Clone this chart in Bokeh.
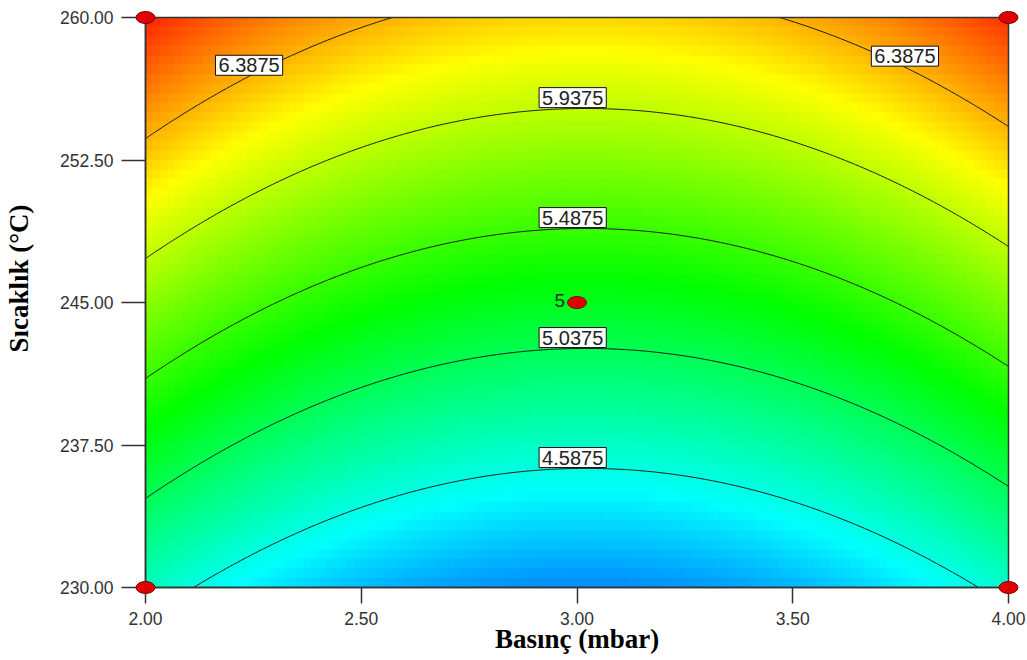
import numpy as np
from bokeh.plotting import figure
from bokeh.models import Range1d, FixedTicker, NumeralTickFormatter, Label
from bokeh.embed import file_html
from bokeh.resources import INLINE

# ---- data ----
pressure_range = [2.0, 4.0]          # Basınç (mbar)
temperature_range = [230.0, 260.0]   # Sıcaklık (°C)
x_ticks = [2.0, 2.5, 3.0, 3.5, 4.0]
y_ticks = [230.0, 237.5, 245.0, 252.5, 260.0]

# fitted quadratic response-surface model in coded units
coef_b0 = 5.21
coef_b1 = -0.0225   # pressure
coef_b2 = 1.069     # temperature
coef_b11 = 0.54
coef_b22 = 0.0
coef_b12 = 0.0

contour_levels = [4.5875, 5.0375, 5.4875, 5.9375, 6.3875]
label_levels = [6.3875, 5.9375, 5.4875, 5.0375, 4.5875, 6.3875]
label_pressure = [2.24, 2.99, 2.99, 2.99, 2.99, 3.76]
label_texts = ["6.3875", "5.9375", "5.4875", "5.0375", "4.5875", "6.3875"]

design_p = [2.0, 4.0, 2.0, 4.0, 3.0]
design_t = [230.0, 230.0, 260.0, 260.0, 245.0]
center_replicates = "5"

# colour scale stops (value -> colour)
cmap_values = [3.7, 4.5, 5.3, 6.15, 6.95]
cmap_colors = [(0, 0, 255), (0, 255, 255), (0, 255, 0), (255, 255, 0), (255, 0, 0)]

p_mid = (pressure_range[0] + pressure_range[1]) / 2
p_half = (pressure_range[1] - pressure_range[0]) / 2
t_mid = (temperature_range[0] + temperature_range[1]) / 2
t_half = (temperature_range[1] - temperature_range[0]) / 2


def model(P, T):
    x1 = (np.asarray(P) - p_mid) / p_half
    x2 = (np.asarray(T) - t_mid) / t_half
    return (coef_b0 + coef_b1 * x1 + coef_b2 * x2 + coef_b11 * x1 ** 2
            + coef_b22 * x2 ** 2 + coef_b12 * x1 * x2)


def t_on_level(P, level):
    x1 = (P - p_mid) / p_half
    a = coef_b22
    b = coef_b2 + coef_b12 * x1
    c = coef_b0 + coef_b1 * x1 + coef_b11 * x1 ** 2 - level
    if abs(a) < 1e-12:
        x2 = -c / b
    else:
        roots = np.roots([a, b, c])
        roots = [r.real for r in roots if abs(r.imag) < 1e-9]
        x2 = min(roots, key=lambda r: abs(r))
    return t_mid + x2 * t_half


# ---- layout: the frame covers the whole canvas; axes are pinned to the data box ----
W, H = 1027, 660
box_left, box_right, box_top, box_bottom = 145, 1008, 17, 587   # pixel box of the data area
sx = (box_right - box_left) / (pressure_range[1] - pressure_range[0])
sy = (box_bottom - box_top) / (temperature_range[1] - temperature_range[0])
xr = Range1d(pressure_range[0] - box_left / sx, pressure_range[1] + (W - box_right) / sx)
yr = Range1d(temperature_range[0] - (H - box_bottom) / sy, temperature_range[1] + box_top / sy)

p = figure(width=W, height=H, output_backend="svg", toolbar_location=None,
           x_range=xr, y_range=yr, min_border=0)
p.background_fill_color = "white"
p.border_fill_color = "white"
p.outline_line_color = None
p.grid.visible = False

# coloured surface (cell grid)
nx, ny = 120, 60
px = np.linspace(pressure_range[0], pressure_range[1], nx + 1)
py = np.linspace(temperature_range[0], temperature_range[1], ny + 1)
cx = (px[:-1] + px[1:]) / 2
cy = (py[:-1] + py[1:]) / 2
CX, CY = np.meshgrid(cx, cy)
Z = model(CX, CY)
rgba = np.zeros((ny, nx), dtype=np.uint32)
view = rgba.view(dtype=np.uint8).reshape((ny, nx, 4))
for ch in range(3):
    view[:, :, ch] = np.clip(np.interp(Z, cmap_values, [c[ch] for c in cmap_colors]), 0, 255).astype(np.uint8)
view[:, :, 3] = 255
p.image_rgba(image=[rgba], x=pressure_range[0], y=temperature_range[0],
             dw=pressure_range[1] - pressure_range[0], dh=temperature_range[1] - temperature_range[0])

# contour lines
gx = np.linspace(pressure_range[0], pressure_range[1], 300)
gy = np.linspace(temperature_range[0], temperature_range[1], 300)
GX, GY = np.meshgrid(gx, gy)
GZ = model(GX, GY)
p.contour(gx, gy, GZ, contour_levels, line_color="#1a1a1a", line_width=1)

# frame of the data box
p.quad(left=[pressure_range[0]], right=[pressure_range[1]], bottom=[temperature_range[0]],
       top=[temperature_range[1]], fill_color=None, line_color="#333333", line_width=1.5)

# contour labels
for lv, lp, txt in zip(label_levels, label_pressure, label_texts):
    lt = t_on_level(lp, lv)
    p.add_layout(Label(x=lp, y=lt, text=txt, text_align="center", text_baseline="bottom",
                       y_offset=1, text_font="Liberation Sans", text_font_size="20px",
                       text_color="#222222", background_fill_color="white",
                       border_line_color="#111111", border_line_width=1, padding=3))

# design points
p.ellipse(x=design_p, y=design_t, width=19, height=12, width_units="screen",
          height_units="screen", fill_color="#e00000", line_color="#7a0000", line_width=1,
          level="overlay")
p.add_layout(Label(x=design_p[4], y=design_t[4], text=center_replicates, x_offset=-12, y_offset=2,
                   text_align="right", text_baseline="middle", text_font="Liberation Sans",
                   text_font_size="19px", text_color="#1c331c"))

# axes pinned to the data box
p.xaxis.fixed_location = temperature_range[0]
p.xaxis.bounds = tuple(pressure_range)
p.yaxis.fixed_location = pressure_range[0]
p.yaxis.bounds = tuple(temperature_range)
for ax, ticks, tout in ((p.xaxis[0], x_ticks, 16), (p.yaxis[0], y_ticks, 24)):
    ax.ticker = FixedTicker(ticks=ticks)
    ax.formatter = NumeralTickFormatter(format="0.00")
    ax.major_tick_out = tout
    ax.major_tick_in = 0
    ax.minor_tick_line_color = None
    ax.major_tick_line_color = "#333333"
    ax.major_tick_line_width = 1.5
    ax.axis_line_color = "#333333"
    ax.axis_line_width = 1.5
    ax.major_label_text_font = "Liberation Sans"
    ax.major_label_text_font_size = "17.5px"
    ax.major_label_text_color = "#333333"
    ax.major_label_standoff = 8

# axis titles
p.add_layout(Label(x=p_mid, y=temperature_range[0], y_offset=-51, text="Basınç (mbar)",
                   text_align="center", text_baseline="middle", text_font="Liberation Serif",
                   text_font_style="bold", text_font_size="27px", text_color="black"))
p.add_layout(Label(x=pressure_range[0], y=t_mid, x_offset=-127, y_offset=24, angle=np.pi / 2,
                   text="Sıcaklık (°C)", text_align="center", text_baseline="middle",
                   text_font="Liberation Serif", text_font_style="bold", text_font_size="27px",
                   text_color="black"))

open("out.html", "w").write(file_html(p, INLINE))
